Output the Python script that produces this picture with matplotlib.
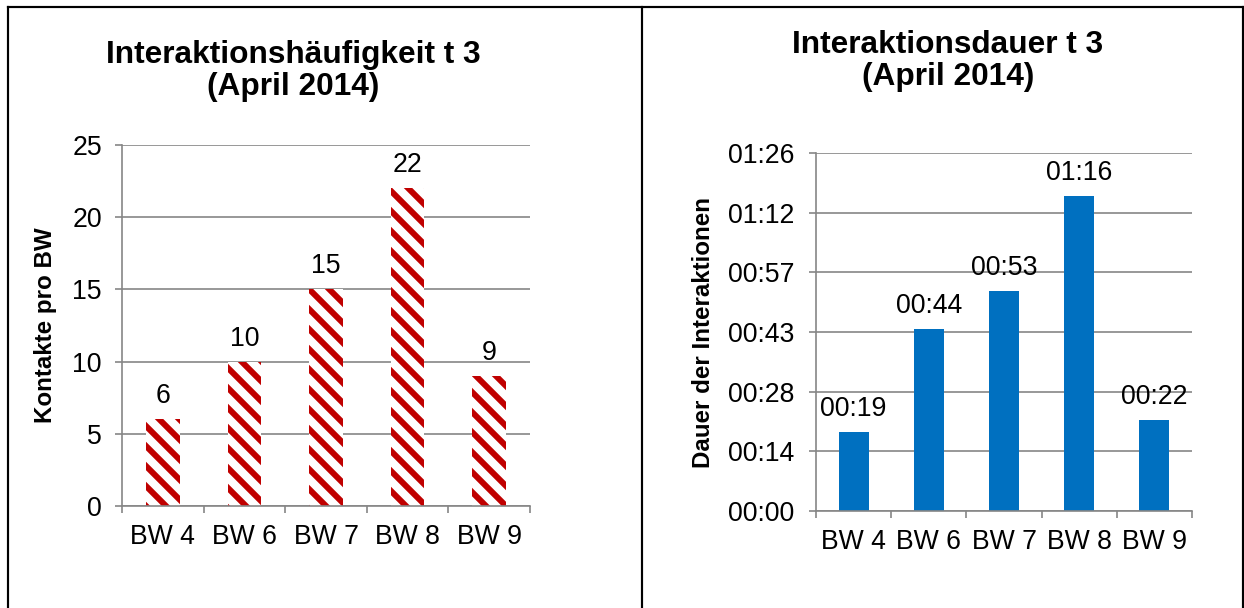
import matplotlib
matplotlib.use("Agg")
import matplotlib.pyplot as plt
from matplotlib.lines import Line2D
from matplotlib.ticker import FuncFormatter, FixedLocator

plt.rcParams["font.family"] = ["Liberation Sans", "DejaVu Sans"]
plt.rcParams["hatch.linewidth"] = 3.6
plt.rcParams["hatch.color"] = "#C00000"

W, H, DPI = 1244, 608, 120

# Kalenderwochen (beide Diagramme)
wochen = ["BW 4", "BW 6", "BW 7", "BW 8", "BW 9"]
# Interaktionshäufigkeit: Kontakte pro BW
kontakte = [6, 10, 15, 22, 9]
# Interaktionsdauer in Sekunden (mm:ss)
dauer_sek = [19, 44, 53, 76, 22]
dauer_ticks = [0, 14.4, 28.8, 43.2, 57.6, 72.0, 86.4]

GRAY = "#868686"
RED = "#C00000"
BLUE = "#0070C0"
TICK_FS = 16


def mmss(v, _pos=None):
    s = int(v + 1e-6)
    return f"{s // 60:02d}:{s % 60:02d}"


def px_axes(fig, x0, x1, y_top, y_bot):
    return fig.add_axes([x0 / W, (H - y_bot) / H, (x1 - x0) / W, (y_bot - y_top) / H])


def style(ax, ypad):
    for s in ("top", "right"):
        ax.spines[s].set_visible(False)
    for s in ("left", "bottom"):
        ax.spines[s].set_color(GRAY)
        ax.spines[s].set_linewidth(1.0)
    ax.set_axisbelow(True)
    ax.yaxis.grid(True, color=GRAY, linewidth=1.0)
    ax.set_xlim(-0.5, len(wochen) - 0.5)
    ax.set_xticks(range(len(wochen)))
    ax.set_xticklabels(wochen, fontsize=TICK_FS)
    ax.xaxis.set_minor_locator(FixedLocator([i - 0.5 for i in range(len(wochen) + 1)]))
    ax.tick_params(axis="x", which="major", length=0, pad=11)
    ax.tick_params(axis="x", which="minor", length=4, width=1.0, color=GRAY, direction="out")
    ax.tick_params(axis="y", length=4, width=1.0, color=GRAY, labelsize=TICK_FS, pad=ypad)


fig = plt.figure(figsize=(W / DPI, H / DPI), dpi=DPI)

# --- links: Häufigkeit, schraffierte Säulen
ax1 = px_axes(fig, 122, 530, 145, 506)
style(ax1, ypad=8)
ax1.bar(range(len(wochen)), kontakte, width=0.41, color="white",
        edgecolor=RED, linewidth=0, hatch="\\\\", zorder=2)
ax1.set_ylim(0, 25)
ax1.set_yticks(range(0, 26, 5))
for i, v in enumerate(kontakte):
    ax1.annotate(str(v), (i, v), xytext=(0, 6), textcoords="offset points",
                 ha="center", va="bottom", fontsize=TICK_FS)
ax1.set_ylabel("Kontakte pro BW", fontsize=14.5, fontweight="bold", labelpad=9)

# --- rechts: Dauer, blaue Säulen
ax2 = px_axes(fig, 816, 1192, 153, 511)
style(ax2, ypad=9)
ax2.bar(range(len(wochen)), dauer_sek, width=0.4, color=BLUE, zorder=2)
ax2.set_ylim(0, dauer_ticks[-1])
ax2.set_yticks(dauer_ticks)
ax2.yaxis.set_major_formatter(FuncFormatter(mmss))
for i, v in enumerate(dauer_sek):
    ax2.annotate(mmss(v), (i, v), xytext=(0, 6), textcoords="offset points",
                 ha="center", va="bottom", fontsize=TICK_FS)
ax2.set_ylabel("Dauer der Interaktionen", fontsize=14.5, fontweight="bold", labelpad=8)

# Titel
fig.text(293 / W, (H - 71) / H, "Interaktionshäufigkeit t 3\n(April 2014)",
         ha="center", va="center", fontsize=19, fontweight="bold", linespacing=1.12)
fig.text(948 / W, (H - 61) / H, "Interaktionsdauer t 3\n(April 2014)",
         ha="center", va="center", fontsize=19, fontweight="bold", linespacing=1.12)

# Tabellenrahmen
frame = dict(color="black", linewidth=1.3, transform=None)
for xs, ys in [([8, W], [H - 7, H - 7]),
               ([8, 8], [0, H - 7]),
               ([642, 642], [0, H - 7]),
               ([W - 1, W - 1], [0, H - 7])]:
    fig.add_artist(Line2D(xs, ys, **frame))

fig.savefig("out.png", dpi=DPI)
